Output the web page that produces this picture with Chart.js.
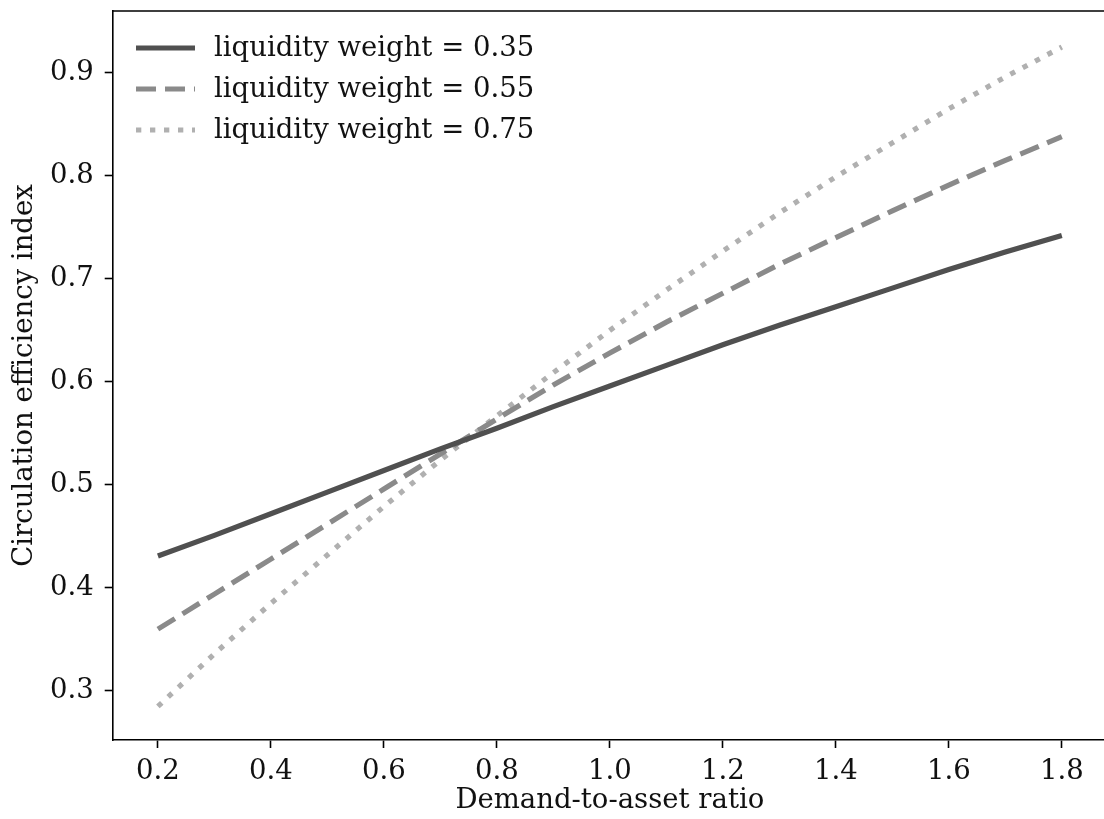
<!DOCTYPE html>
<html><head><meta charset="utf-8">
<script src="https://cdn.jsdelivr.net/npm/chart.js@4.4.1/dist/chart.umd.min.js"></script>
<style>
html,body{margin:0;padding:0;background:#fff;overflow:hidden;width:1104px;height:819px}
#wrap{position:absolute;left:0;top:0;width:1112px;height:819px}
</style></head>
<body><div id="wrap"><canvas id="c" width="1112" height="819"></canvas></div>
<script>
// ---- data ----
const demandToAsset = [0.2,0.3,0.4,0.5,0.6,0.7,0.8,0.9,1.0,1.1,1.2,1.3,1.4,1.5,1.6,1.7,1.8];
const weight035 = [0.431,0.451,0.472,0.493,0.514,0.535,0.555,0.576,0.596,0.616,0.636,0.655,0.673,0.691,0.709,0.726,0.742];
const weight055 = [0.360,0.394,0.428,0.462,0.496,0.530,0.564,0.597,0.628,0.658,0.686,0.714,0.740,0.766,0.791,0.815,0.838];
const weight075 = [0.285,0.336,0.385,0.432,0.479,0.524,0.567,0.609,0.650,0.689,0.727,0.764,0.799,0.832,0.865,0.896,0.925];
const seriesLabels = ['liquidity weight = 0.35','liquidity weight = 0.55','liquidity weight = 0.75'];
const xTickValues = [0.2,0.4,0.6,0.8,1.0,1.2,1.4,1.6,1.8];
const yTickValues = [0.3,0.4,0.5,0.6,0.7,0.8,0.9];
const xTitle = 'Demand-to-asset ratio';
const yTitle = 'Circulation efficiency index';

const FONT = "'DejaVu Serif', 'Liberation Serif', serif";
const FS = 27.5;

const styles = [
  {color:'#505050', dash:[]},
  {color:'#8a8a8a', dash:[20,9]},
  {color:'#b0b0b0', dash:[5.3,8.7]}
];
const seriesValues = [weight035, weight055, weight075];

const datasets = seriesValues.map((vals,i)=>({
  label: seriesLabels[i],
  data: demandToAsset.map((x,j)=>({x:x, y:vals[j]})),
  borderColor: styles[i].color,
  borderDash: styles[i].dash,
  borderWidth: 5.2,
  borderCapStyle: 'butt',
  pointRadius: 0,
  tension: 0,
  fill: false
}));

const framePlugin = {
  id:'frame',
  afterDraw(chart){
    const {ctx, chartArea:a} = chart;
    ctx.save();
    ctx.strokeStyle = '#000';
    ctx.lineWidth = 1.6;
    ctx.beginPath();
    ctx.moveTo(a.left, a.top); ctx.lineTo(a.right, a.top); ctx.lineTo(a.right, a.bottom);
    ctx.stroke();
    ctx.restore();
  }
};

const legendPlugin = {
  id:'insideLegend',
  afterDraw(chart){
    const {ctx} = chart;
    ctx.save();
    ctx.font = FS + 'px ' + FONT;
    ctx.textBaseline = 'middle';
    ctx.fillStyle = '#111';
    const rows = [48, 89, 130];
    chart.data.datasets.forEach((ds,i)=>{
      const y = rows[i];
      ctx.save();
      ctx.strokeStyle = ds.borderColor;
      ctx.lineWidth = ds.borderWidth;
      ctx.lineCap = 'butt';
      ctx.setLineDash(ds.borderDash || []);
      ctx.beginPath();
      ctx.moveTo(136, y); ctx.lineTo(195, y);
      ctx.stroke();
      ctx.restore();
      ctx.fillText(ds.label, 214, y + 1);
    });
    ctx.restore();
  }
};

new Chart(document.getElementById('c'), {
  type:'line',
  data:{datasets},
  options:{
    responsive:false,
    animation:false,
    devicePixelRatio:1,
    layout:{padding:{left:0, top:11, right:5, bottom:0}},
    plugins:{legend:{display:false}, tooltip:{enabled:false}},
    scales:{
      x:{
        type:'linear', min:0.12, max:1.88,
        afterBuildTicks(s){ s.ticks = xTickValues.map(v=>({value:v})); },
        afterFit(s){ s.height = 79; s.paddingLeft = 0; s.paddingRight = 0; },
        ticks:{ callback:v=>v.toFixed(1), font:{family:FONT, size:FS}, color:'#111', padding:7, maxRotation:0, autoSkip:false },
        grid:{ drawOnChartArea:false, tickLength:8, tickWidth:1.6, tickColor:'#000' },
        border:{ color:'#000', width:1.6 },
        title:{ display:true, text:xTitle, font:{family:FONT, size:FS}, color:'#111', padding:{top:0,bottom:2} }
      },
      y:{
        type:'linear', min:0.2524, max:0.960,
        afterBuildTicks(s){ s.ticks = yTickValues.map(v=>({value:v})); },
        afterFit(s){ s.width = 112.7; s.paddingTop = 0; s.paddingBottom = 0; },
        ticks:{ callback:v=>v.toFixed(1), font:{family:FONT, size:FS}, color:'#111', padding:11, autoSkip:false },
        grid:{ drawOnChartArea:false, tickLength:8, tickWidth:1.6, tickColor:'#000' },
        border:{ color:'#000', width:1.6 },
        title:{ display:true, text:yTitle, font:{family:FONT, size:FS}, color:'#111', padding:{top:8,bottom:0} }
      }
    }
  },
  plugins:[framePlugin, legendPlugin]
});
</script>
</body></html>
